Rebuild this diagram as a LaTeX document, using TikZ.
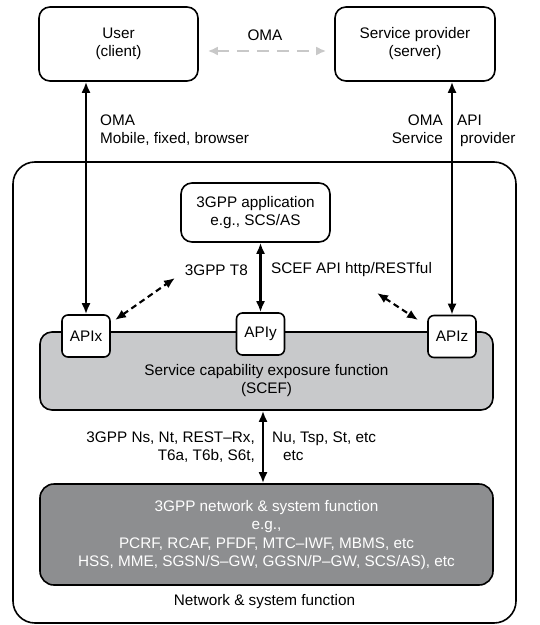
\documentclass[tikz,border=0pt]{standalone}
\usepackage{fontspec}
\setmainfont{Liberation Sans}
\usetikzlibrary{arrows.meta}
\definecolor{scefgray}{HTML}{C8C9CB}
\definecolor{netgray}{HTML}{8D8E90}
\definecolor{omagray}{HTML}{C8C8C8}
\tikzset{
  box/.style={draw, line width=1.6bp, rounded corners=11bp, align=center, inner sep=0pt},
  apibox/.style={draw, line width=1.6bp, rounded corners=6bp, fill=white, align=center, inner sep=0pt, minimum width=48bp, minimum height=42bp},
  conn/.style={line width=2.1bp, {Latex[length=11bp,width=9bp]}-{Latex[length=11bp,width=9bp]}},
  dconn/.style={conn, dash pattern=on 6bp off 4bp},
  lbl/.style={inner sep=0pt, align=left},
  txt/.style={font=\fontsize{15.3bp}{18bp}\selectfont}
}
\begin{document}
\begin{tikzpicture}[x=1bp,y=-1bp, txt, every node/.style={txt}]
\useasboundingbox (0,0) rectangle (540,625);
% outer
\node[box, rounded corners=22bp, minimum width=503bp, minimum height=461bp] (outer) at (264.5,392.5) {};
\node[inner sep=0pt] (outerlbl) at (264.5,602) {Network \& system function};
% top boxes
\node[box, minimum width=159bp, minimum height=74bp] (user) at (118.5,44) {User\\(client)};
\node[box, minimum width=160bp, minimum height=74bp] (sp) at (415,44) {Service provider\\(server)};
\draw[line width=2.6bp, omagray, dash pattern=on 12bp off 8bp, {Latex[length=10bp,width=9bp]}-{Latex[length=10bp,width=9bp]}]
  ([xshift=9bp]user.east |- 0,51) -- ([xshift=-8bp]sp.west |- 0,51);
\node[inner sep=0pt] (omalbl) at (265,35) {OMA};
% app
\node[box, minimum width=149bp, minimum height=59bp] (app) at (255.5,212.5) {3GPP application\\e.g., SCS/AS};
% SCEF
\node[box, rounded corners=12bp, fill=scefgray, minimum width=453bp, minimum height=78bp] (scef) at (266.5,371) {};
\node[inner sep=0pt, align=center] (sceflbl) at (266.5,381) {Service capability exposure function\\(SCEF)};
% API boxes
\node[apibox] (apix) at (86,336) {APIx};
\node[apibox] (apiy) at (260.5,334) {APIy};
\node[apibox] (apiz) at (452,336.5) {APIz};
% network
\node[box, rounded corners=14bp, fill=netgray, minimum width=453bp, minimum height=101bp] (net) at (266.5,534.5) {};
\node[inner sep=0pt, align=center, text=white, font=\fontsize{15.3bp}{18.5bp}\selectfont] (netlbl) at (266.5,535)
  {3GPP network \& system function\\e.g.,\\PCRF, RCAF, PFDF, MTC--IWF, MBMS, etc\\HSS, MME, SGSN/S--GW, GGSN/P--GW, SCS/AS), etc};
% vertical connectors
\draw[conn] (apix.north) -- (apix.north |- user.south);
\draw[conn] (apiz.north) -- (apiz.north |- sp.south);
\draw[conn] (apiy.north) -- (apiy.north |- app.south);
\coordinate (mid) at (263,0);
\draw[conn] (mid |- scef.south) -- (mid |- net.north);
% dashed diagonals
\coordinate (dl1) at (115,320);
\coordinate (dl2) at (175,278);
\coordinate (dr1) at (377,293);
\coordinate (dr2) at (418,320);
\draw[dconn] (dl1) -- (dl2);
\draw[dconn] (dr1) -- (dr2);
% labels
\node[lbl, anchor=north west] (lblu) at (100,115) {OMA\\Mobile, fixed, browser};
\node[lbl, anchor=north east, align=right] (lblsp1) at (443,115) {OMA\\Service};
\node[lbl, anchor=north west] (lblsp2) at (457,115) {API\\\hspace*{3bp}provider};
\node[lbl, anchor=east] (lblt8) at (248,270) {3GPP T8};
\node[lbl, anchor=west] (lblscef) at (271,270) {SCEF API http/RESTful};
\node[lbl, anchor=north east, align=right] (lblns) at (255,432) {3GPP Ns, Nt, REST--Rx,\\T6a, T6b, S6t,};
\node[lbl, anchor=north west] (lblnu) at (272,432) {Nu, Tsp, St, etc\\\hspace*{11bp}etc};
\end{tikzpicture}
\end{document}
